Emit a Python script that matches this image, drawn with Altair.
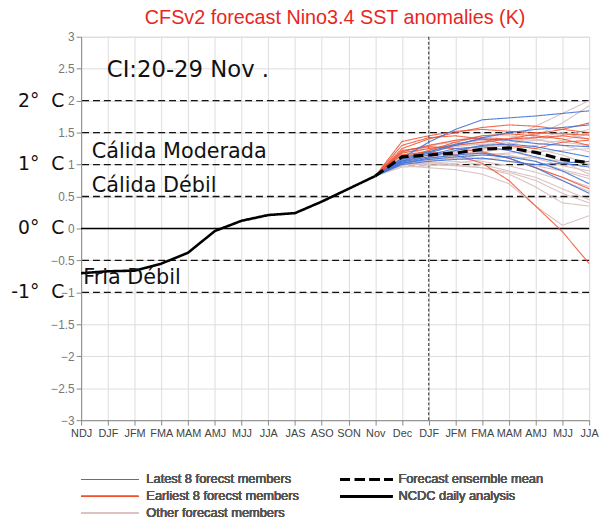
import json
import altair as alt
import pandas as pd

# ---------------- data ----------------
x_labels = ["NDJ", "DJF", "JFM", "FMA", "MAM", "AMJ", "MJJ", "JJA", "JAS", "ASO",
            "SON", "Nov", "Dec", "DJF", "JFM", "FMA", "MAM", "AMJ", "MJJ", "JJA"]

ncdc_values = [-0.70, -0.67, -0.66, -0.55, -0.38, -0.04, 0.12, 0.21, 0.24, 0.42, 0.62, 0.82]

forecast_start = 11  # forecasts start from "Nov"

# Dec, DJF, JFM, FMA, MAM, AMJ, MJJ, JJA
mean_values = [1.12, 1.15, 1.18, 1.24, 1.26, 1.19, 1.08, 1.03]

latest_members = [
    [1.10, 1.35, 1.55, 1.70, 1.73, 1.76, 1.80, 1.84],
    [1.08, 1.20, 1.32, 1.40, 1.38, 1.33, 1.30, 1.28],
    [1.05, 1.15, 1.25, 1.28, 1.22, 1.12, 1.02, 0.96],
    [1.02, 1.10, 1.15, 1.18, 1.10, 0.95, 0.75, 0.55],
    [1.06, 1.18, 1.30, 1.42, 1.50, 1.55, 1.58, 1.62],
    [1.00, 1.05, 1.08, 1.10, 1.05, 1.00, 1.02, 1.05],
    [1.04, 1.12, 1.22, 1.30, 1.32, 1.28, 1.20, 1.12],
    [1.02, 1.08, 1.12, 1.15, 1.12, 1.05, 0.90, 0.70],
]

earliest_members = [
    [1.36, 1.45, 1.52, 1.55, 1.52, 1.50, 1.48, 1.46],
    [1.25, 1.40, 1.50, 1.58, 1.62, 1.60, 1.55, 1.50],
    [1.20, 1.30, 1.38, 1.42, 1.40, 1.42, 1.45, 1.40],
    [1.15, 1.20, 1.15, 1.02, 0.75, 0.35, -0.05, -0.55],
    [1.30, 1.42, 1.45, 1.40, 1.30, 1.25, 1.35, 1.38],
    [1.18, 1.25, 1.30, 1.35, 1.40, 1.48, 1.55, 1.65],
    [1.22, 1.28, 1.25, 1.20, 1.10, 0.95, 0.80, 0.62],
    [1.10, 1.22, 1.35, 1.45, 1.48, 1.45, 1.40, 1.30],
]

other_members = [
    [1.05, 1.10, 1.15, 1.22, 1.40, 1.60, 1.80, 2.00],
    [1.08, 1.15, 1.20, 1.25, 1.30, 1.45, 1.65, 1.92],
    [1.00, 1.00, 0.98, 0.95, 0.85, 0.65, 0.40, 0.35],
    [0.98, 0.95, 0.92, 0.85, 0.70, 0.35, 0.05, 0.20],
    [1.10, 1.20, 1.28, 1.32, 1.30, 1.25, 1.15, 1.00],
    [1.12, 1.18, 1.20, 1.18, 1.10, 0.95, 0.80, 0.65],
    [1.02, 1.05, 1.10, 1.15, 1.18, 1.20, 1.22, 1.25],
    [1.15, 1.25, 1.32, 1.38, 1.40, 1.38, 1.35, 1.30],
    [1.00, 1.02, 1.05, 1.00, 0.90, 0.80, 0.62, 0.45],
    [1.08, 1.12, 1.18, 1.25, 1.32, 1.38, 1.45, 1.55],
    [1.20, 1.30, 1.35, 1.30, 1.22, 1.10, 0.98, 0.90],
    [1.05, 1.08, 1.10, 1.05, 0.98, 0.88, 0.75, 0.58],
    [0.96, 0.98, 1.02, 1.08, 1.12, 1.10, 1.05, 1.02],
    [1.12, 1.22, 1.30, 1.35, 1.30, 1.18, 1.05, 0.85],
    [1.04, 1.10, 1.15, 1.20, 1.25, 1.30, 1.38, 1.48],
    [1.00, 1.03, 1.00, 0.95, 0.88, 0.75, 0.55, 0.40],
    [1.18, 1.28, 1.38, 1.45, 1.45, 1.40, 1.30, 1.20],
    [1.06, 1.12, 1.12, 1.10, 1.05, 0.98, 0.90, 0.78],
    [1.02, 1.06, 1.12, 1.18, 1.15, 1.05, 0.92, 0.82],
    [1.10, 1.16, 1.22, 1.28, 1.35, 1.42, 1.50, 1.40],
]

dashed_levels = [2, 1.5, 1, 0.5, -0.5, -1]
zero_level = [0]
split_position = [13]

outer_labels = ["2°\u00a0\u00a0C", "1°\u00a0\u00a0C", "0°\u00a0\u00a0C", "-1°\u00a0\u00a0C"]
outer_label_values = [2, 1, 0, -1]

inner_texts = ["CI:20-29 Nov .", "Cálida Moderada", "Cálida Débil", "Fria Débil"]
inner_text_x = [0.96, 0.40, 0.40, 0.08]
inner_text_y = [2.48, 1.19, 0.66, -0.77]
inner_text_size = [23, 21, 21, 21]

LATEST = "Latest 8 forecst members"
EARLIEST = "Earliest 8 forecst members"
OTHER = "Other forecast members"
MEAN = "Forecast ensemble mean"
NCDC = "NCDC daily analysis"

# ---------------- tables ----------------
rows = []


def add(name, group, start, values):
    for i, v in enumerate(values):
        rows.append({"member": name, "group": group, "idx": start + i, "val": v})


for k, m in enumerate(other_members):
    add(f"o{k}", OTHER, forecast_start, [ncdc_values[-1]] + m)
for k, m in enumerate(earliest_members):
    add(f"e{k}", EARLIEST, forecast_start, [ncdc_values[-1]] + m)
for k, m in enumerate(latest_members):
    add(f"l{k}", LATEST, forecast_start, [ncdc_values[-1]] + m)
add("mean", MEAN, forecast_start, [ncdc_values[-1]] + mean_values)
add("ncdc", NCDC, 0, ncdc_values)

lines_df = pd.DataFrame(rows)
dashed_df = pd.DataFrame({"val": dashed_levels})
zero_df = pd.DataFrame({"val": zero_level})
split_df = pd.DataFrame({"idx": split_position})
outer_df = pd.DataFrame({"label": outer_labels, "val": outer_label_values})
inner_df = pd.DataFrame({"label": inner_texts, "idx": inner_text_x,
                         "val": inner_text_y, "size": inner_text_size})

# ---------------- styles ----------------
COND = "Liberation Sans, Arial"
SANS = "DejaVu Sans, Verdana, Open Sans"

styles = {
    OTHER: dict(color="#dcc2c2", strokeWidth=1.1, strokeDash=[1, 0], opacity=1.0),
    EARLIEST: dict(color="#f0502e", strokeWidth=1.1, strokeDash=[1, 0], opacity=0.85),
    LATEST: dict(color="#3f72d8", strokeWidth=1.1, strokeDash=[1, 0], opacity=0.9),
    MEAN: dict(color="#000000", strokeWidth=3.2, strokeDash=[10, 5], opacity=1.0),
    NCDC: dict(color="#000000", strokeWidth=2.6, strokeDash=[1, 0], opacity=1.0),
}

x_enc = alt.X(
    "idx:Q",
    scale=alt.Scale(domain=[0, 19], nice=False, zero=False),
    axis=alt.Axis(
        values=list(range(20)),
        labelExpr=json.dumps(x_labels) + "[datum.value]",
        title=None,
        grid=True,
        labelOverlap=False,
        labelFlush=False,
        labelColor="#444444",
        labelFont=COND,
        labelFontSize=11,
        labelPadding=3,
    ),
)
y_enc = alt.Y(
    "val:Q",
    scale=alt.Scale(domain=[-3, 3], nice=False, zero=False),
    axis=alt.Axis(
        values=[v / 2 for v in range(-6, 7)],
        format="~g",
        title=None,
        grid=True,
        labelColor="#777777",
        labelFont=COND,
        labelFontSize=12,
        labelPadding=2,
    ),
)

base = alt.Chart(lines_df)


def group_layer(g):
    s = styles[g]
    return base.transform_filter(alt.datum.group == g).mark_line(
        color=s["color"], strokeWidth=s["strokeWidth"], strokeDash=s["strokeDash"],
        opacity=s["opacity"],
    ).encode(x=x_enc, y=y_enc, detail="member:N")


dashed = alt.Chart(dashed_df).mark_rule(color="#111111", strokeDash=[7, 4], strokeWidth=1.3).encode(y=y_enc)
zero = alt.Chart(zero_df).mark_rule(color="#000000", strokeWidth=1.5).encode(y=y_enc)
split = alt.Chart(split_df).mark_rule(color="#555555", strokeDash=[3, 2], strokeWidth=1.3).encode(x=x_enc)

outer = alt.Chart(outer_df).mark_text(
    align="right", baseline="middle", font=SANS, fontSize=19, color="#111111"
).encode(x=alt.value(-17), y=y_enc, text="label:N")

inner = alt.Chart(inner_df).mark_text(
    align="left", baseline="middle", font=SANS, color="#111111"
).encode(x=x_enc, y=y_enc, text="label:N", size=alt.Size("size:Q", scale=None, legend=None))

# ---------------- manual legend (pixel positions relative to plot area) ----------------
legend_entries = [
    (LATEST, 0, 58, 66, 448),
    (EARLIEST, 0, 58, 66, 465),
    (OTHER, 0, 58, 66, 482),
    (MEAN, 262, 315, 321, 448),
    (NCDC, 262, 315, 321, 465),
]
legend_layers = []
for name, x0, x1, tx, ty in legend_entries:
    s = styles[name]
    legend_layers.append(
        alt.Chart(dashed_df).mark_rule(
            color=s["color"], strokeWidth=s["strokeWidth"] if s["strokeWidth"] > 2 else 1.2,
            strokeDash=s["strokeDash"], opacity=s["opacity"],
        ).encode(x=alt.value(x0), x2=alt.value(x1), y=alt.value(ty))
    )
    legend_layers.append(
        alt.Chart(dashed_df).mark_text(
            text=name, align="left", baseline="middle", font=COND, fontSize=13,
            fontWeight="normal", color="#555555",
        ).encode(x=alt.value(tx), y=alt.value(ty))
    )

chart = alt.layer(
    dashed, zero, split,
    group_layer(OTHER), group_layer(EARLIEST), group_layer(LATEST),
    group_layer(MEAN), group_layer(NCDC),
    inner, outer, *legend_layers,
).properties(
    width=514,
    height=388,
    title=alt.Title(
        "CFSv2 forecast Nino3.4 SST anomalies (K)",
        color="#e8261e",
        font=COND,
        fontSize=20,
        fontWeight="normal",
        anchor="middle",
        offset=3,
    ),
    autosize=alt.AutoSizeParams(type="none"),
    padding={"left": 74, "top": 26, "right": 10, "bottom": 104},
).configure_view(
    stroke="#000000", strokeWidth=2.5
).configure_axis(
    domain=False,
    gridColor="#a0a0a0",
    gridDash=[1, 4],
    gridWidth=1,
    tickColor="#777777",
    tickSize=5,
).configure(background="white")

chart.save("out.html", embed_options={"renderer": "svg", "actions": False})
